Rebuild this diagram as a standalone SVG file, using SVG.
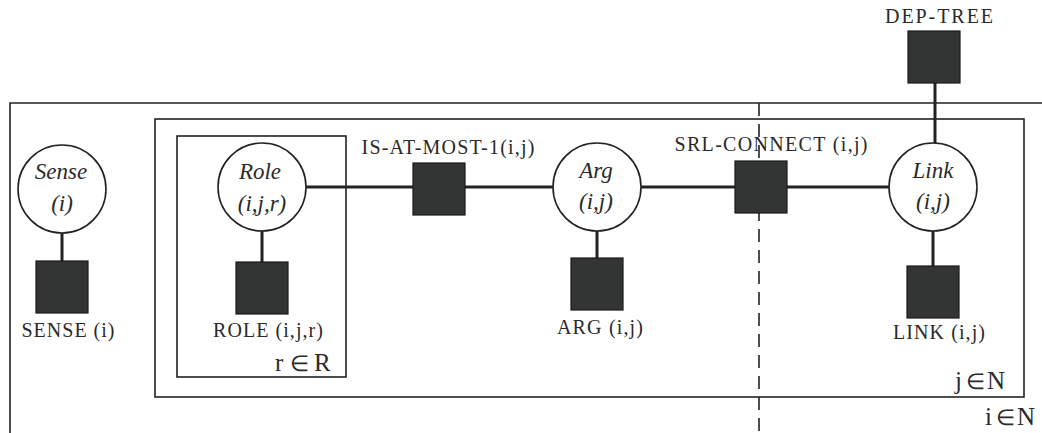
<svg xmlns="http://www.w3.org/2000/svg" width="1042" height="433" viewBox="0 0 1042 433">
<style>
.plate{fill:none;stroke:#222;stroke-width:1.6}
.edge{stroke:#222;stroke-width:3;fill:none}
.dash{stroke:#222;stroke-width:1.6;stroke-dasharray:13 8;fill:none}
.var{fill:#fff;stroke:#222;stroke-width:1.6}
.fac{fill:#333534;stroke:#1a1a1a;stroke-width:1.2}
.lab{font-family:"Liberation Serif","DejaVu Serif",serif;font-size:20px;fill:#2a2a2a;text-anchor:middle}
.vl{font-family:"Liberation Serif","DejaVu Serif",serif;font-size:23px;font-style:italic;fill:#2a2a2a;text-anchor:middle}
.pl{font-family:"Liberation Serif","DejaVu Serif",serif;font-size:25px;fill:#2a2a2a}
.el{font-family:"DejaVu Sans",sans-serif;font-weight:200;font-size:22px}
</style>
<rect width="1042" height="433" fill="#fff"/>
<g id="plates">
<path class="plate" d="M10,433 V103 H1042"/>
<rect class="plate" x="155" y="119" width="869" height="278"/>
<rect class="plate" x="177" y="136" width="169" height="241"/>
<path class="dash" d="M759,103 V433"/>
<text class="pl" y="371"><tspan x="275">r</tspan><tspan class="el" x="290">∈</tspan><tspan x="314">R</tspan></text>
<text class="pl" y="389"><tspan x="955">j</tspan><tspan class="el" x="966">∈</tspan><tspan x="987">N</tspan></text>
<text class="pl" y="425"><tspan x="985">i</tspan><tspan class="el" x="996">∈</tspan><tspan x="1017">N</tspan></text>
</g>
<g id="connectors">
<path class="edge" d="M306,187 H413"/>
<path class="edge" d="M465,187 H553"/>
<path class="edge" d="M641,187 H735"/>
<path class="edge" d="M787,187 H889"/>
<path class="edge" d="M62,233 V261"/>
<path class="edge" d="M262,231 V262"/>
<path class="edge" d="M597,231 V258"/>
<path class="edge" d="M933,231 V266"/>
<path class="edge" d="M935,82 V143"/>
</g>
<g id="sense">
<circle class="var" cx="62" cy="189" r="44"/>
<text class="vl" x="61" y="179">Sense</text>
<text class="vl" x="62" y="211">(i)</text>
</g>
<g id="sense-factor">
<rect class="fac" x="36" y="261" width="52" height="52"/>
<text class="lab" x="68" y="337" textLength="93" lengthAdjust="spacing">SENSE (i)</text>
</g>
<g id="role">
<circle class="var" cx="262" cy="187" r="44"/>
<text class="vl" x="260" y="179">Role</text>
<text class="vl" x="262" y="211">(i,j,r)</text>
</g>
<g id="role-factor">
<rect class="fac" x="236" y="262" width="52" height="52"/>
<text class="lab" x="268" y="337" textLength="110" lengthAdjust="spacing">ROLE (i,j,r)</text>
</g>
<g id="is-at-most-1">
<rect class="fac" x="413" y="163" width="52" height="52"/>
<text class="lab" x="448" y="154" textLength="173" lengthAdjust="spacing">IS-AT-MOST-1(i,j)</text>
</g>
<g id="arg">
<circle class="var" cx="597" cy="187" r="44"/>
<text class="vl" x="596" y="178">Arg</text>
<text class="vl" x="596" y="209">(i,j)</text>
</g>
<g id="arg-factor">
<rect class="fac" x="571" y="258" width="52" height="52"/>
<text class="lab" x="600" y="334" textLength="86" lengthAdjust="spacing">ARG (i,j)</text>
</g>
<g id="srl-connect">
<rect class="fac" x="735" y="161" width="52" height="52"/>
<text class="lab" x="771" y="151" textLength="193" lengthAdjust="spacing">SRL-CONNECT (i,j)</text>
</g>
<g id="link">
<circle class="var" cx="933" cy="187" r="44"/>
<text class="vl" x="933" y="178">Link</text>
<text class="vl" x="933" y="209">(i,j)</text>
</g>
<g id="link-factor">
<rect class="fac" x="907" y="266" width="52" height="52"/>
<text class="lab" x="939" y="339" textLength="92" lengthAdjust="spacing">LINK (i,j)</text>
</g>
<g id="dep-tree">
<rect class="fac" x="908" y="31" width="52" height="52"/>
<text class="lab" x="939" y="23" textLength="108" lengthAdjust="spacing">DEP-TREE</text>
</g>
</svg>
